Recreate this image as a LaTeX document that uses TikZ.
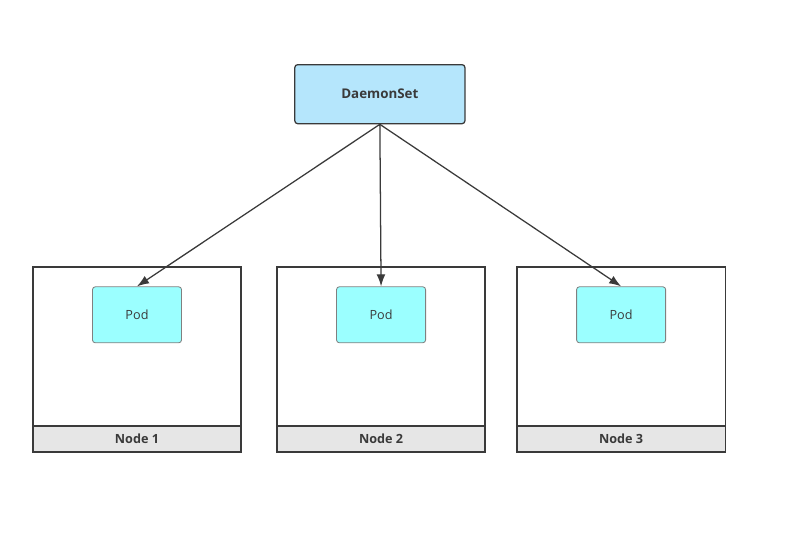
\documentclass[tikz,border=0pt]{standalone}
\usepackage{fontspec}
\setmainfont{Open Sans}
\usetikzlibrary{arrows.meta,positioning}
\definecolor{dsblue}{HTML}{B5E6FC}
\definecolor{podcyan}{HTML}{9BFFFF}
\definecolor{bargray}{HTML}{E6E6E6}
\definecolor{txtgray}{HTML}{3A3A3A}
\tikzset{
	ctrl/.style={draw=txtgray, fill=dsblue, rectangle, rounded corners=2pt,
		minimum width=4.25cm, minimum height=1.475cm, text=txtgray,
		font=\fontsize{9.5}{11}\selectfont\bfseries},
	host/.style={draw=txtgray, fill=white, rectangle,
		minimum width=5.2cm, minimum height=3.975cm},
	hostbar/.style={draw=txtgray, fill=bargray, rectangle,
		minimum width=5.2cm, minimum height=0.65cm, text=txtgray,
		font=\fontsize{9}{11}\selectfont\bfseries},
	pod/.style={draw=gray, fill=podcyan, rectangle, rounded corners=2pt, line width=0.6pt,
		minimum width=2.225cm, minimum height=1.4cm, text=txtgray,
		font=\fontsize{9}{11}\selectfont}
}
\begin{document}
\begin{tikzpicture}[x=0.025cm, y=-0.025cm, line width=0.9pt,
	node distance=6.05cm, >={Latex[length=3mm,width=2.2mm]}]
	\useasboundingbox (0,0) rectangle (788,540);
	% worker nodes
	\node [host] (host1) at (137,346.5) {};
	\node [host, right of=host1, xshift=0.05cm] (host2) {};
	\node [host, right of=host2, xshift=-0.05cm] (host3) {};
	\foreach \i in {1,2,3} {
		\node [hostbar, below=-0.9pt of host\i] (bar\i) {Node \i};
		\node [pod, below=0.5cm of host\i.north] (pod\i) {Pod};
	}
	% controller
	\node [ctrl, above=3.55cm of host2.north, xshift=-0.03cm] (ds) {DaemonSet};

	\draw [->, draw=txtgray] (ds.south) -- (pod1.north);
	\draw [->, draw=txtgray] (ds.south) -- (pod2.north);
	\draw [->, draw=txtgray] (ds.south) -- (pod3.north);
\end{tikzpicture}
\end{document}
